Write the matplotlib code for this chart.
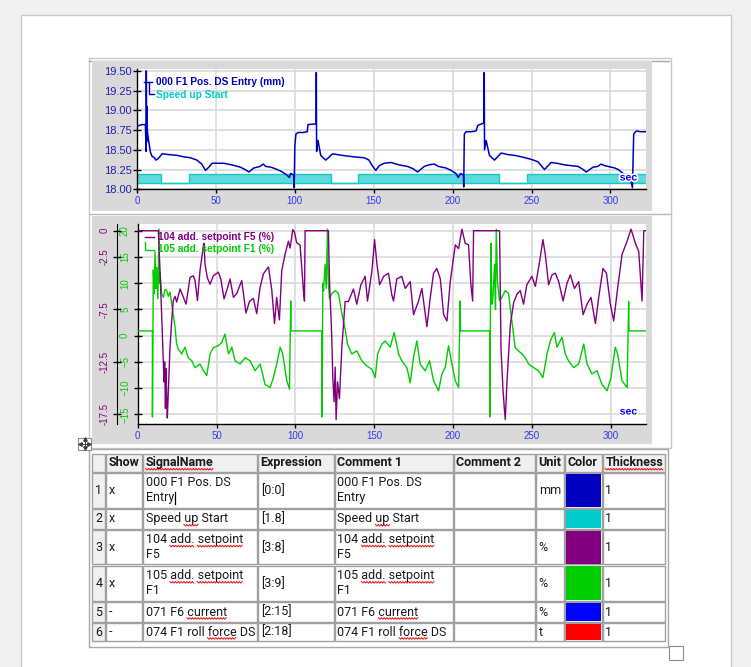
import matplotlib
matplotlib.use('Agg')
import matplotlib.pyplot as plt
from matplotlib.patches import Rectangle
from matplotlib.lines import Line2D
import matplotlib.patheffects as pe
import numpy as np

W, H = 751, 667

# ---------------- data ----------------
# 000 F1 Pos. DS Entry (mm) : (sec, mm)
pos_points = [
    (0.0, 18.80), (1.5, 18.81), (3.0, 18.82), (5.3, 18.82), (5.8, 18.48), (5.9, 19.50),
    (6.1, 18.60), (6.3, 19.05), (6.6, 18.72), (7.5, 18.60), (8.5, 18.47), (9.5, 18.42),
    (11.0, 18.40), (12.0, 18.37), (13.5, 18.39), (15.9, 18.45), (20.0, 18.44), (25.4, 18.43),
    (30.0, 18.41), (33.8, 18.40), (38.0, 18.37), (41.0, 18.32), (43.4, 18.24), (45.5, 18.28),
    (47.6, 18.33), (55.0, 18.33), (60.0, 18.31), (65.6, 18.28), (68.5, 18.25), (70.9, 18.22),
    (74.0, 18.27), (78.0, 18.29), (80.0, 18.32), (81.5, 18.29), (85.0, 18.28), (88.9, 18.25),
    (92.0, 18.22), (95.0, 18.18), (96.5, 18.15), (97.3, 18.20), (99.4, 18.18), (99.6, 18.02),
    (100.0, 18.55), (100.7, 18.70), (102.0, 18.72), (105.0, 18.72), (107.9, 18.73), (108.3, 18.82),
    (113.5, 18.83), (113.6, 19.48), (113.8, 18.48), (114.7, 18.62), (116.4, 18.43), (119.6, 18.37),
    (123.9, 18.45), (130.0, 18.43), (138.0, 18.41), (144.0, 18.40), (147.0, 18.37), (149.0, 18.30),
    (151.3, 18.24), (153.5, 18.30), (156.6, 18.33), (160.8, 18.34), (166.0, 18.31), (171.4, 18.29),
    (175.0, 18.26), (177.8, 18.22), (182.0, 18.29), (185.0, 18.31), (188.3, 18.32), (191.0, 18.29),
    (195.7, 18.27), (199.0, 18.24), (202.1, 18.20), (203.5, 18.15), (205.0, 18.20), (206.8, 18.18),
    (207.0, 18.03), (207.4, 18.70), (208.5, 18.73), (212.0, 18.73), (214.8, 18.74), (215.9, 18.81),
    (219.7, 18.84), (220.0, 19.48), (220.2, 18.50), (221.2, 18.62), (223.3, 18.43), (226.5, 18.37),
    (230.7, 18.46), (235.0, 18.44), (239.2, 18.43), (244.0, 18.41), (249.7, 18.38), (254.0, 18.35),
    (258.2, 18.25), (262.4, 18.34), (266.0, 18.33), (270.9, 18.31), (275.0, 18.30), (279.4, 18.29),
    (282.0, 18.26), (284.7, 18.22), (288.9, 18.28), (292.0, 18.29), (294.0, 18.32), (296.3, 18.30),
    (302.7, 18.27), (305.0, 18.25), (308.0, 18.20), (310.0, 18.17), (312.2, 18.18), (313.9, 18.02),
    (314.7, 18.70), (316.4, 18.74), (319.0, 18.73), (322.5, 18.73),
]

# Speed up Start (digital): switch times and state after each switch
speed_t = [0.0, 15.2, 32.8, 122.7, 140.1, 229.2, 247.0, 322.5]
speed_state = [1, 0, 1, 0, 1, 0, 1, 1]

# 105 add. setpoint F1 (%)
f1_points = [
    (0.0, 0.9), (9.3, 0.9), (9.35, -15.5), (9.9, 12.5), (10.5, 8.0), (11.0, 16.0), (11.6, 9.0),
    (12.1, 13.0), (12.8, 7.0), (13.5, 20.3), (13.9, 10.0), (14.2, 12.0), (15.2, 8.0), (16.3, 7.3),
    (17.3, 8.8), (18.4, 8.6), (19.5, 7.5), (20.5, 8.3), (21.6, 6.0), (23.7, 1.6), (24.7, -1.6),
    (25.8, -2.6), (27.9, -3.5), (30.0, -2.2), (32.1, -4.2), (34.3, -4.8), (36.4, -6.1), (39.5, -5.4),
    (41.7, -6.7), (43.8, -7.6), (45.9, -3.5), (48.0, -2.3), (51.2, -1.9), (53.3, -1.3), (55.4, 0.3),
    (57.6, -3.5), (59.7, -2.2), (61.8, -4.8), (65.0, -5.4), (68.2, -4.2), (71.3, -4.8), (74.5, -6.7),
    (77.7, -5.4), (80.8, -9.3), (84.0, -9.9), (86.1, -8.0), (88.2, -5.4), (90.4, -2.2), (92.0, -3.5),
    (94.6, -8.6), (96.3, -10.2), (97.1, 6.6), (97.3, 0.9), (116.8, 0.9), (116.9, -15.5), (117.5, 10.0),
    (117.9, 8.6), (118.9, 13.6), (119.6, 9.0), (120.4, 20.3), (120.9, 10.0), (121.7, 7.0), (123.1, 8.0),
    (125.3, 8.6), (127.4, 8.0), (129.5, 4.2), (131.6, 1.3), (133.1, -1.6), (135.8, -3.5), (139.0, -2.9),
    (142.2, -4.8), (145.4, -5.8), (148.6, -6.4), (150.7, -8.0), (152.2, -3.5), (154.9, -1.6),
    (157.0, -1.0), (160.2, -2.2), (162.7, 0.6), (165.5, -3.5), (167.6, -4.8), (170.8, -6.1),
    (172.9, -9.0), (175.0, -4.2), (177.1, -1.0), (179.2, -5.4), (182.4, -6.7), (185.2, -4.8),
    (187.7, -8.6), (190.9, -10.5), (193.0, -7.3), (195.1, -6.1), (197.2, -1.9), (199.4, -5.4),
    (201.5, -8.6), (203.6, -9.9), (204.6, 6.6), (204.8, 0.9), (223.3, 0.9), (223.4, -15.5),
    (224.1, 17.6), (224.7, 6.0), (225.4, 7.3), (226.4, 13.6), (227.0, 5.0), (227.5, 20.3),
    (228.3, 10.3), (229.6, 6.6), (231.1, 7.3), (233.2, 8.6), (235.3, 8.0), (236.8, 4.2), (238.1, 1.1),
    (239.5, -2.3), (241.7, -2.9), (243.8, -3.5), (245.9, -4.2), (248.0, -5.4), (251.2, -6.1),
    (254.3, -6.7), (257.1, -8.0), (259.7, -3.5), (261.8, -1.0), (264.3, 0.6), (266.0, -2.2),
    (269.2, -0.3), (271.3, -3.5), (273.4, -4.8), (276.6, -6.1), (279.8, -5.4), (283.0, -1.6),
    (285.1, -5.4), (288.2, -7.3), (291.4, -6.7), (294.6, -9.3), (297.8, -10.5), (300.3, -8.0),
    (303.0, -2.2), (304.5, -3.5), (307.3, -8.6), (310.5, -9.9), (311.5, 6.5), (311.7, 0.9),
    (322.5, 0.9),
]

# 104 add. setpoint F5 (%)
f5_points = [
    (0.0, 0.0), (13.1, 0.0), (14.2, -4.0), (15.2, -8.05), (16.1, -12.0), (16.7, -14.4), (17.1, -12.5),
    (17.6, -16.95), (18.0, -13.15), (18.4, -16.0), (18.8, -17.85), (19.5, -15.0), (20.5, -11.1),
    (21.6, -8.5), (22.6, -6.65), (23.7, -6.25), (24.7, -6.8), (26.9, -5.55), (29.0, -6.35),
    (30.7, -7.0), (33.2, -4.45), (35.3, -4.3), (36.4, -4.75), (37.9, -6.65), (39.5, -3.85),
    (41.7, -1.4), (42.1, -1.2), (42.7, -3.2), (44.2, -4.5), (45.9, -5.1), (48.0, -4.3), (51.2, -3.95),
    (52.7, -4.6), (54.8, -6.5), (56.5, -5.7), (58.6, -4.6), (60.7, -6.35), (62.8, -6.0), (66.0, -4.75),
    (68.7, -7.85), (70.9, -6.75), (73.4, -6.45), (75.5, -7.9), (77.7, -5.35), (79.8, -4.1),
    (83.0, -3.45), (85.1, -5.7), (86.8, -8.85), (88.2, -6.35), (89.9, -8.5), (91.4, -3.8),
    (93.5, -2.25), (95.6, -1.0), (96.7, -1.65), (98.4, 0.1), (99.4, -0.1), (100.9, -1.15),
    (103.0, -1.35), (105.1, -5.6), (105.8, -6.7), (106.2, 0.0), (121.0, 0.0), (121.7, -4.85),
    (123.1, -10.0), (123.8, -14.0), (124.6, -16.3), (125.3, -13.0), (125.9, -18.0), (126.8, -14.4),
    (128.0, -16.0), (129.5, -11.2), (131.6, -6.75), (133.7, -6.75), (136.9, -5.55), (139.0, -7.0),
    (141.6, -5.15), (144.3, -4.35), (145.8, -6.7), (148.6, -3.85), (150.3, -0.85), (151.8, -3.2),
    (153.5, -5.15), (156.0, -4.35), (159.1, -4.05), (161.2, -6.1), (162.3, -6.7), (164.4, -4.6),
    (167.6, -4.35), (169.7, -5.5), (172.9, -4.85), (175.0, -8.0), (178.2, -6.7), (180.3, -5.5),
    (183.5, -9.15), (185.6, -6.4), (187.7, -4.05), (189.8, -3.6), (192.0, -4.6), (194.1, -8.0),
    (196.2, -8.6), (198.3, -4.85), (201.5, -1.35), (203.6, -1.7), (205.7, 0.15), (207.8, -1.2),
    (209.9, -1.35), (211.4, -5.15), (212.5, -6.7), (213.1, 0.0), (229.6, 0.0), (230.5, -11.2),
    (231.7, -15.0), (232.6, -16.9), (233.2, -18.0), (234.3, -14.4), (236.4, -9.0), (238.5, -6.85),
    (240.6, -6.05), (242.7, -5.7), (244.8, -7.0), (246.9, -5.15), (250.1, -4.35), (252.3, -5.3),
    (255.0, -2.95), (257.1, -0.85), (258.6, -2.25), (260.7, -5.15), (262.9, -4.2), (265.0, -4.05),
    (267.1, -4.85), (269.9, -6.7), (272.4, -5.0), (274.5, -4.2), (277.1, -5.5), (279.8, -4.85),
    (282.6, -8.0), (285.1, -7.0), (287.6, -6.35), (290.4, -8.85), (292.5, -6.35), (295.2, -3.6),
    (297.4, -4.05), (299.9, -7.0), (302.0, -8.6), (304.5, -5.5), (307.3, -2.25), (310.5, -1.0),
    (313.0, 0.15), (315.8, -1.2), (317.9, -2.0), (320.0, -6.7), (321.1, 0.0), (322.5, 0.0),
]

x_ticks = [0, 50, 100, 150, 200, 250, 300]
pos_ticks = [18.00, 18.25, 18.50, 18.75, 19.00, 19.25, 19.50]
f1_ticks = [-15, -10, -5, 0, 5, 10, 15, 20]
f5_ticks = [0, -2.5, -7.5, -12.5, -17.5]

# signal table
header = ['', 'Show', 'SignalName', 'Expression', 'Comment 1', 'Comment 2', 'Unit', 'Color', 'Thickness']
show = ['x', 'x', 'x', 'x', '-', '-']
signal_names = ['000 F1 Pos. DS\nEntry', 'Speed up Start', '104 add. setpoint\nF5',
                '105 add. setpoint\nF1', '071 F6 current', '074 F1 roll force DS']
expressions = ['[0:0]', '[1.8]', '[3:8]', '[3:9]', '[2:15]', '[2:18]']
comment1 = list(signal_names)
comment2 = ['', '', '', '', '', '']
units = ['mm', '', '%', '%', '%', 't']
colors = ['#0000c0', '#00cccc', '#800080', '#00cc00', '#0000ff', '#ff0000']
thickness = [1, 1, 1, 1, 1, 1]

# words underlined as misspelled: (row, column, word)
spell_marks = [(0, 2, 'SignalName'), (0, 8, 'Thickness'),
               (2, 2, 'up'), (2, 4, 'up'),
               (3, 2, 'add.'), (3, 2, 'setpoint'), (3, 4, 'add.'), (3, 4, 'setpoint'),
               (4, 2, 'add.'), (4, 2, 'setpoint'), (4, 4, 'add.'), (4, 4, 'setpoint'),
               (5, 2, 'current'), (5, 4, 'current'), (6, 2, 'force'), (6, 4, 'force')]

POS_C, SPEED_C, F5_C, F1_C = '#0000c0', '#00cccc', '#800080', '#00cc00'
XLAB_C = '#3535ff'

plt.rcParams['font.family'] = ['Liberation Sans', 'DejaVu Sans']


def fig_box(x0, y0, x1, y1):
    return [x0 / W, 1 - y1 / H, (x1 - x0) / W, (y1 - y0) / H]


def rect(x0, y0, x1, y1, **kw):
    fig.add_artist(Rectangle((x0 / W, 1 - y1 / H), (x1 - x0) / W, (y1 - y0) / H,
                             transform=fig.transFigure, **kw))


def pline(xs, ys, **kw):
    fig.add_artist(Line2D([x / W for x in xs], [1 - y / H for y in ys],
                          transform=fig.transFigure, **kw))


def ptext(x, y, s, **kw):
    return fig.text(x / W, 1 - y / H, s, **kw)


def style_time_axis(ax):
    for s in ['top', 'right']:
        ax.spines[s].set_visible(False)
    ax.spines['left'].set_linewidth(1)
    ax.spines['bottom'].set_linewidth(1)
    ax.set_xlim(0, 322.5)
    ax.set_xticks(x_ticks)
    ax.grid(True, color='#dcdcdc', linewidth=1.3)
    ax.set_axisbelow(True)
    ax.tick_params(axis='x', length=3, width=1, pad=1.5, labelsize=7, labelcolor=XLAB_C)


fig = plt.figure(figsize=(W / 100, H / 100), dpi=100)
fig.patch.set_facecolor('#f0f0f0')

# page and chart container (behind the axes)
rect(21, 15, 731, 690, facecolor='white', edgecolor='#c8c8c8', linewidth=1, zorder=-5)
rect(88.5, 57.5, 670.5, 447.5, facecolor='none', edgecolor='#c8c8c8', linewidth=1, zorder=-4)
pline([89, 669], [60.5, 60.5], color='#a8a8a8', linewidth=1, zorder=-4)
pline([88.5, 670.5], [213.5, 213.5], color='#b8b8b8', linewidth=1, zorder=-4)
rect(92, 61, 652, 211, facecolor='#d9d9d9', edgecolor='none', zorder=-3)
rect(92, 216.5, 652, 443.5, facecolor='#d9d9d9', edgecolor='none', zorder=-3)

# ---------------- chart 1 ----------------
ax1 = fig.add_axes(fig_box(137, 69, 646, 189.3))
style_time_axis(ax1)
pos_t, pos_mm = zip(*pos_points)
band_lo, band_hi = 18.075, 18.19
band = [band_lo + s * (band_hi - band_lo) for s in speed_state]
ax1.fill_between(speed_t, band_lo, band, step='post', facecolor='#5cdadc', edgecolor='none', zorder=2)
ax1.step(speed_t, band, where='post', color='#18c8c8', linewidth=1, zorder=2)
ax1.plot([speed_t[0], speed_t[-1]], [band_lo, band_lo], color='#18c8c8', linewidth=1, zorder=2)
ax1.plot(pos_t, pos_mm, color=POS_C, linewidth=1.1, zorder=3)
ax1.set_ylim(18.0, 19.525)
ax1.set_yticks(pos_ticks)
ax1.set_yticklabels([f'{v:.2f}' for v in pos_ticks])
ax1.tick_params(axis='y', direction='inout', length=6, width=1, pad=0.5, labelsize=8, labelcolor='#2020b0')

pline([144, 152], [81.7, 81.7], color=POS_C, linewidth=1)
pline([148.5, 148.5, 153.5], [81.7, 93.8, 93.8], color=POS_C, linewidth=1)
ptext(156.5, 81.7, '000 F1 Pos. DS Entry (mm)', color=POS_C, fontsize=7.3, fontweight='bold', va='center')
ptext(156.5, 94.5, 'Speed up Start', color=SPEED_C, fontsize=7.3, fontweight='bold', va='center')
halo = [pe.withStroke(linewidth=2.5, foreground='white')]
ptext(637, 177.5, 'sec', color='#0000ff', fontsize=7.5, fontweight='bold', ha='right', va='center',
      path_effects=halo)

# ---------------- chart 2 ----------------
ax3 = fig.add_axes(fig_box(137.7, 224, 646, 424.3))
style_time_axis(ax3)
f1_t, f1_pct = zip(*f1_points)
ax3.plot(f1_t, f1_pct, color=F1_C, linewidth=1.0, zorder=3)
ax3.set_ylim(-16.9, 21.28)
ax3.set_yticks(f1_ticks)
ax3.tick_params(axis='y', direction='inout', length=6, width=1, pad=2.5, labelsize=7,
                labelcolor=F1_C, labelrotation=90)
for lab in ax3.get_yticklabels():
    lab.set_va('center')

ax4 = ax3.twinx()
f5_t, f5_pct = zip(*f5_points)
ax4.plot(f5_t, f5_pct, color=F5_C, linewidth=1.0, zorder=3)
ax4.set_ylim(-18.45, 0.64)
ax4.set_xlim(0, 322.5)
ax4.yaxis.tick_left()
for s in ['top', 'right', 'bottom']:
    ax4.spines[s].set_visible(False)
ax4.spines['left'].set_visible(True)
ax4.spines['left'].set_position(('outward', 14.7))
ax4.set_yticks(f5_ticks)
ax4.set_yticklabels(['0', '-2.5', '-7.5', '-12.5', '-17.5'])
ax4.tick_params(axis='y', direction='inout', length=6, width=1, pad=2.5, labelsize=7,
                labelcolor=F5_C, labelrotation=90)
for lab in ax4.get_yticklabels():
    lab.set_va('center')

pline([145, 154], [236.7, 236.7], color=F5_C, linewidth=1)
pline([144.5, 144.5, 154], [242, 249.8, 249.8], color=F1_C, linewidth=1)
ptext(158, 236.7, '104 add. setpoint F5 (%)', color=F5_C, fontsize=7.3, fontweight='bold', va='center')
ptext(158, 249.5, '105 add. setpoint F1 (%)', color=F1_C, fontsize=7.3, fontweight='bold', va='center')
ptext(637, 411.5, 'sec', color='#0000ff', fontsize=7.5, fontweight='bold', ha='right', va='center',
      path_effects=halo)

# ---------------- table ----------------
col_edges = [91.7, 105.7, 142.7, 257.7, 334.3, 453.3, 535.7, 564.3, 602.3, 666.0]
row_edges = [453.3, 472.3, 508.3, 529.3, 565.0, 601.7, 622.3, 641.7]
rect(88.5, 448.5, 667.7, 646.7, facecolor='white', edgecolor='#a8a8a8', linewidth=1)

table_rows = [header]
for i in range(len(show)):
    table_rows.append([str(i + 1), show[i], signal_names[i], expressions[i], comment1[i],
                       comment2[i], units[i], '', str(thickness[i])])

tfont = dict(family=['Roboto', 'DejaVu Sans'], fontsize=9, color='#1a1a1a')
line_pos = {}
for r, cells in enumerate(table_rows):
    y0, y1 = row_edges[r], row_edges[r + 1]
    cy = (y0 + y1) / 2
    for c, val in enumerate(cells):
        x0, x1 = col_edges[c], col_edges[c + 1]
        fill = '#f0f0f0' if (r == 0 or c == 0) else 'white'
        rect(x0 + 0.7, y0 + 0.7, x1 - 0.7, y1 - 0.7, facecolor=fill, edgecolor='#a0a0a0', linewidth=1)
        if r > 0 and c == 7:
            rect(x0 + 1.4, y0 + 1.4, x1 - 1.4, y1 - 1.4, facecolor=colors[r - 1], edgecolor='none')
            continue
        lines = val.split('\n')
        for k, ln in enumerate(lines):
            ly = cy + (k - (len(lines) - 1) / 2) * 15
            if c == 0:
                ptext((x0 + x1) / 2, ly, ln, ha='center', va='center', **tfont)
            else:
                ptext(x0 + 3, ly, ln, ha='left', va='center',
                      fontweight='bold' if r == 0 else 'normal', **tfont)
            line_pos[(r, c, k)] = (x0 + 3, ly, ln)

renderer = fig.canvas.get_renderer()


def text_width(s, bold=False):
    t = fig.text(0, 0, s, fontweight='bold' if bold else 'normal', **tfont)
    w = t.get_window_extent(renderer=renderer).width
    t.remove()
    return w


for r, c, word in spell_marks:
    x0, ly, ln = line_pos[(r, c, 0)]
    idx = ln.find(word)
    bold = r == 0
    x_end = x0 + text_width(ln[:idx + len(word)], bold)
    x_start = x_end - text_width(word, bold)
    xs = np.arange(x_start, x_end + 0.1, 1.4)
    ys = [ly + 6.3 + (0.9 if k % 2 else -0.6) for k in range(len(xs))]
    pline(list(xs), ys, color='#e8231e', linewidth=0.8)

# text cursor after "Entry"
x0, ly, ln = line_pos[(1, 2, 1)]
cx = x0 + text_width(ln) + 1.2
pline([cx, cx], [ly - 6, ly + 6], color='black', linewidth=0.9)

# table move handle and resize handle
rect(78, 437.5, 91, 449.5, facecolor='white', edgecolor='#8c8c8c', linewidth=0.8)
pline([80, 89], [443.5, 443.5], color='#404040', linewidth=0.7)
pline([84.5, 84.5], [439, 448], color='#404040', linewidth=0.7)
for mx, my, mk in [(80.3, 443.5, '<'), (88.7, 443.5, '>'), (84.5, 439.3, '^'), (84.5, 447.7, 'v')]:
    pline([mx], [my], marker=mk, markersize=2.5, color='#404040', linestyle='none')
rect(668.5, 645.5, 682.5, 659.5, facecolor='white', edgecolor='#8c8c8c', linewidth=0.8)

fig.savefig('out.png', dpi=100, facecolor=fig.get_facecolor())
